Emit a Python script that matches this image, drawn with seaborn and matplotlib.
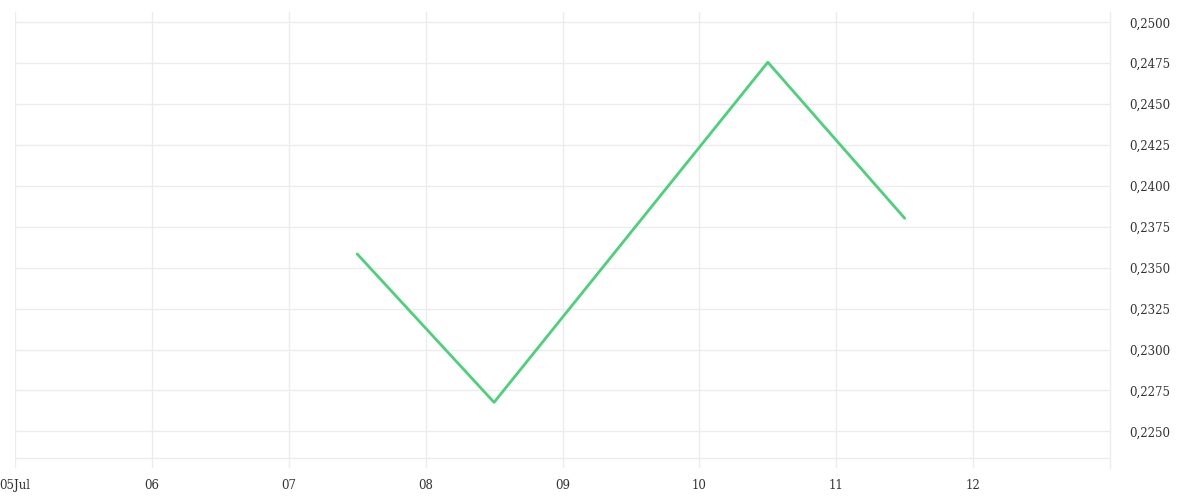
import matplotlib

matplotlib.use("Agg")

import matplotlib.dates as mdates
import matplotlib.pyplot as plt
import matplotlib.ticker as mticker
import pandas as pd
import seaborn as sns

# values (half-day points)
timestamps = ["2023-07-07 12:00", "2023-07-08 12:00", "2023-07-10 12:00", "2023-07-11 12:00"]
values = [0.23584, 0.22677, 0.24756, 0.23802]
day_ticks = pd.date_range("2023-07-05", "2023-07-12", freq="D")
y_ticks = [0.2250, 0.2275, 0.2300, 0.2325, 0.2350, 0.2375, 0.2400, 0.2425, 0.2450, 0.2475, 0.2500]

LINE_COLOR = "#4cd07a"
GRID_COLOR = "#ececec"
TEXT_COLOR = "#333333"

sns.set_theme(style="white")
plt.rcParams["font.family"] = ["DejaVu Serif", "Liberation Serif"]

df = pd.DataFrame({"time": pd.to_datetime(timestamps), "value": values})

fig = plt.figure(figsize=(12, 5), dpi=100)
ax = fig.add_axes([0.0125, 0.064, 0.9125, 0.912])

sns.lineplot(data=df, x="time", y="value", color=LINE_COLOR, lw=2, ax=ax)

ax.set_xlim(pd.Timestamp("2023-07-05"), pd.Timestamp("2023-07-13"))
ax.set_ylim(0.222757, 0.25063)

ax.set_xticks(day_ticks)
ax.xaxis.set_major_formatter(
    mticker.FuncFormatter(
        lambda v, pos: mdates.num2date(v).strftime("%d%b") if pos == 0 else mdates.num2date(v).strftime("%d")
    )
)
ax.set_yticks(y_ticks)
ax.yaxis.set_major_formatter(mticker.FuncFormatter(lambda v, pos: f"{v:.4f}".replace(".", ",")))
ax.yaxis.tick_right()

ax.grid(True, color=GRID_COLOR, lw=1)
ax.set_axisbelow(True)
# faint baseline under the lowest grid line
ax.axhline(0.223368, color=GRID_COLOR, lw=1, zorder=0)
for side in ("top", "bottom", "left"):
    ax.spines[side].set_visible(False)
ax.spines["right"].set_color(GRID_COLOR)
ax.spines["right"].set_linewidth(1)

ax.tick_params(axis="both", length=0, labelsize=8.5, labelcolor=TEXT_COLOR)
ax.tick_params(axis="y", pad=14)
ax.tick_params(axis="x", pad=8)
ax.set_xlabel("")
ax.set_ylabel("")

fig.savefig("out.png", dpi=100)
plt.close(fig)
